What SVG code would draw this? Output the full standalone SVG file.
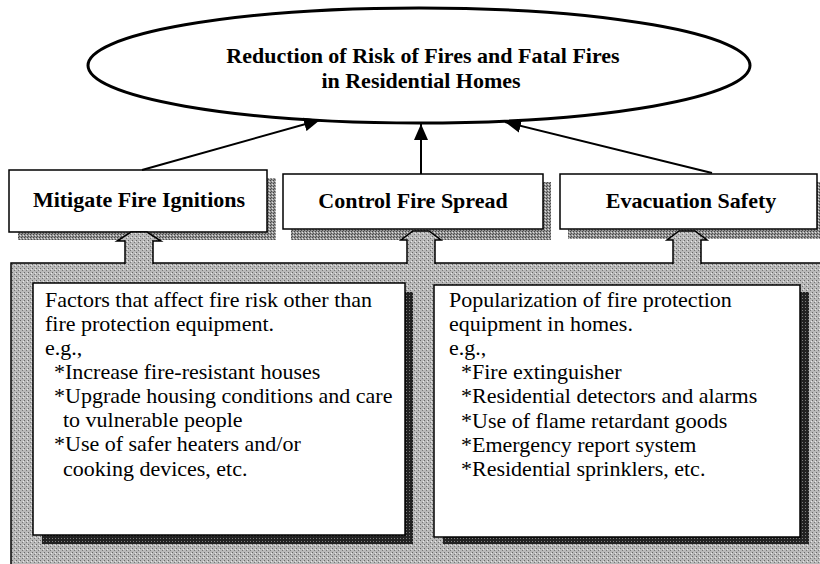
<svg xmlns="http://www.w3.org/2000/svg" width="820" height="564" viewBox="0 0 820 564">
<defs>
<style>
.t{font-family:"Liberation Serif","Times New Roman",serif;font-size:22px;fill:#000}
.b{font-weight:bold;text-anchor:middle}
.box{fill:#fff;stroke:#000;stroke-width:1.5}
.sh{fill:url(#pMid)}
.dsh{fill:url(#pDark)}
.con{stroke:#000;stroke-width:2;fill:none}
.blk{fill:url(#pLight);stroke:#000;stroke-width:1.5;stroke-linejoin:miter}
</style>
<pattern id="pLight" width="4" height="4" patternUnits="userSpaceOnUse">
<rect width="4" height="4" fill="#b9b9b9"/>
<rect x="0" y="0" width="1" height="1" fill="#666"/>
<rect x="2" y="2" width="1" height="1" fill="#777"/>
<rect x="3" y="1" width="1" height="1" fill="#e8e8e8"/>
</pattern>
<pattern id="pMid" width="3" height="3" patternUnits="userSpaceOnUse">
<rect width="3" height="3" fill="#949494"/>
<rect x="0" y="0" width="1" height="1" fill="#444"/>
<rect x="2" y="1" width="1" height="1" fill="#e0e0e0"/>
<rect x="1" y="2" width="1" height="1" fill="#505050"/>
</pattern>
<pattern id="pDark" width="3" height="3" patternUnits="userSpaceOnUse">
<rect width="3" height="3" fill="#222"/>
<rect x="1" y="1" width="1" height="1" fill="#7a7a7a"/>
</pattern>
<marker id="ah" viewBox="0 0 16 14" refX="16" refY="7" markerWidth="16" markerHeight="14" markerUnits="userSpaceOnUse" orient="auto">
<path d="M0,0 L16,7 L0,14 z" fill="#000"/>
</marker>
</defs>
<rect width="820" height="564" fill="#fff"/>

<g id="panel">
<rect x="11" y="263" width="815" height="310" fill="url(#pLight)" stroke="#000" stroke-width="1.5"/>
</g>

<g id="goal">
<ellipse cx="419" cy="65.5" rx="331" ry="57.5" fill="#fff" stroke="#000" stroke-width="3"/>
<text class="t b" x="423" y="63">Reduction of Risk of Fires and Fatal Fires</text>
<text class="t b" x="421" y="88">in Residential Homes</text>
</g>

<g id="mitigate">
<rect class="sh" x="18" y="178" width="258" height="62"/>
<rect class="box" x="9" y="170" width="258" height="62"/>
<text class="t b" x="139" y="207">Mitigate Fire Ignitions</text>
</g>

<g id="control">
<rect class="sh" x="291" y="182" width="260" height="58"/>
<rect class="box" x="283" y="174" width="260" height="55"/>
<text class="t b" x="413" y="208">Control Fire Spread</text>
</g>

<g id="evacuation">
<rect class="sh" x="568" y="182" width="260" height="57"/>
<rect class="box" x="560" y="174" width="257" height="55"/>
<text class="t b" x="691" y="208">Evacuation Safety</text>
</g>

<g id="factors">
<rect class="dsh" x="42" y="292" width="371" height="252"/>
<rect class="box" x="33" y="283" width="372" height="252"/>
<text class="t" x="45" y="307">Factors that affect fire risk other than</text>
<text class="t" x="45" y="331">fire protection equipment.</text>
<text class="t" x="45" y="355">e.g.,</text>
<text class="t" x="54" y="379">*Increase fire-resistant houses</text>
<text class="t" x="54" y="403">*Upgrade housing conditions and care</text>
<text class="t" x="63" y="427">to vulnerable people</text>
<text class="t" x="54" y="451">*Use of safer heaters and/or</text>
<text class="t" x="63" y="476">cooking devices, etc.</text>
</g>

<g id="equipment">
<rect class="dsh" x="443" y="292" width="366" height="252"/>
<rect class="box" x="434" y="285" width="366" height="252"/>
<text class="t" x="449" y="307">Popularization of fire protection</text>
<text class="t" x="449" y="331">equipment in homes.</text>
<text class="t" x="449" y="355">e.g.,</text>
<text class="t" x="461" y="379">*Fire extinguisher</text>
<text class="t" x="461" y="403">*Residential detectors and alarms</text>
<text class="t" x="461" y="428">*Use of flame retardant goods</text>
<text class="t" x="461" y="452">*Emergency report system</text>
<text class="t" x="461" y="476">*Residential sprinklers, etc.</text>
</g>

<g id="connectors">
<path class="blk" d="M125,264 L125,241 L117,241 L131,232 L147,232 L161,241 L153,241 L153,264"/>
<path class="blk" d="M407,264 L407,240 L401,240 L413,231 L429,231 L441,240 L435,240 L435,264"/>
<path class="blk" d="M673,264 L673,240 L667,240 L679,231 L695,231 L707,240 L701,240 L701,264"/>
<line class="con" x1="142" y1="170" x2="320" y2="120" marker-end="url(#ah)"/>
<line class="con" x1="421" y1="174" x2="421" y2="124" marker-end="url(#ah)"/>
<line class="con" x1="712" y1="173" x2="505" y2="122" marker-end="url(#ah)"/>
</g>
</svg>
